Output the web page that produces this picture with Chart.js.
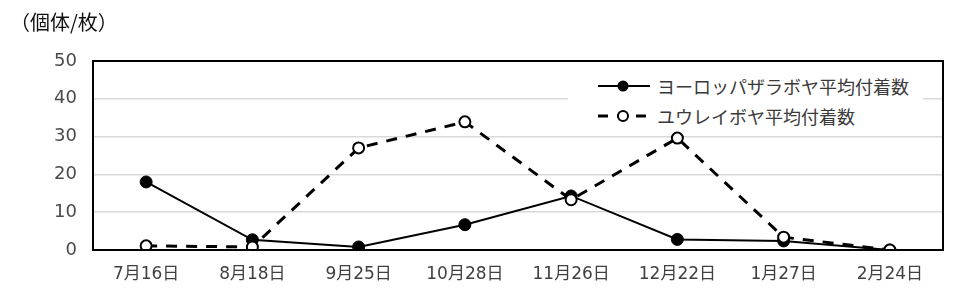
<!DOCTYPE html>
<html lang="ja">
<head>
    <meta charset="UTF-8">
    <title>平均付着数</title>
    <script src="https://cdn.jsdelivr.net/npm/chart.js"></script>
    <style>
        body { margin: 0; background: #fff; font-family: "Noto Sans CJK JP", sans-serif; }
        .wrap { position: relative; width: 960px; height: 305px; }
        #unit { position: absolute; left: 10px; top: 7px; font-size: 20px; color: #111; }
        .legend { position: absolute; left: 568px; top: 70px; width: 355px; height: 60px; background: #fff; }
        .legend .row { position: absolute; left: 28px; height: 28px; display: flex; align-items: center; font-size: 18px; color: #3a3a3a; }
        .legend svg { margin-right: 5px; }
    </style>
</head>
<body>
<div class="wrap">
    <canvas id="chart" width="960" height="305"></canvas>
    <div id="unit">（個体/枚）</div>
    <div class="legend">
        <div class="row" style="top:2px">
            <svg width="56" height="16"><line x1="2" y1="8" x2="54" y2="8" stroke="#000" stroke-width="2"/><circle cx="27" cy="8" r="5.5" fill="#000"/></svg>
            <span>ヨーロッパザラボヤ平均付着数</span>
        </div>
        <div class="row" style="top:32px">
            <svg width="56" height="16"><line x1="2" y1="8" x2="54" y2="8" stroke="#000" stroke-width="3" stroke-dasharray="10,9"/><circle cx="27" cy="8" r="5" fill="#fff" stroke="#000" stroke-width="2"/></svg>
            <span>ユウレイボヤ平均付着数</span>
        </div>
    </div>
</div>
<script>
    // Data
    const dates = ['7月16日', '8月18日', '9月25日', '10月28日', '11月26日', '12月22日', '1月27日', '2月24日'];
    const europeanAscidian = [18, 2.7, 0.8, 6.7, 14.3, 2.8, 2.4, 0];
    const cionaAscidian = [1.1, 0.8, 27, 33.9, 13.3, 29.6, 3.4, 0];
    const yTicks = [0, 10, 20, 30, 40, 50];

    const tickFont = '"DejaVu Sans", "Noto Sans CJK JP", sans-serif';

    // Black frame around the plot area
    const frame = {
        id: 'frame',
        afterDatasetsDraw(chart) {
            const a = chart.chartArea, ctx = chart.ctx;
            ctx.save();
            ctx.strokeStyle = '#000';
            ctx.lineWidth = 2;
            ctx.strokeRect(a.left, a.top, a.right - a.left, a.bottom - a.top);
            ctx.restore();
        }
    };

    new Chart(document.getElementById('chart'), {
        type: 'line',
        data: {
            labels: dates,
            datasets: [
                {
                    label: 'ヨーロッパザラボヤ平均付着数',
                    data: europeanAscidian,
                    borderColor: '#000', borderWidth: 2,
                    pointBackgroundColor: '#000', pointBorderColor: '#000',
                    pointRadius: 6, pointBorderWidth: 1,
                    tension: 0, order: 1
                },
                {
                    label: 'ユウレイボヤ平均付着数',
                    data: cionaAscidian,
                    borderColor: '#000', borderWidth: 3, borderDash: [11, 9],
                    pointBackgroundColor: '#fff', pointBorderColor: '#000',
                    pointRadius: 5.5, pointBorderWidth: 2,
                    tension: 0, order: 0
                }
            ]
        },
        options: {
            responsive: false,
            animation: false,
            layout: { padding: { top: 61, right: 17, left: 0, bottom: 0 } },
            plugins: { legend: { display: false }, tooltip: { enabled: false } },
            scales: {
                x: {
                    offset: true,
                    grid: { display: false },
                    border: { display: false },
                    ticks: { color: '#404040', font: { family: tickFont, size: 17 }, padding: 6, maxRotation: 0 },
                    afterFit(s) { s.height = 55; }
                },
                y: {
                    min: 0, max: 50,
                    afterBuildTicks(s) { s.ticks = yTicks.map(v => ({ value: v })); },
                    grid: { color: '#d9d9d9', lineWidth: 1.5, drawTicks: false },
                    border: { display: false },
                    ticks: { color: '#4a4a4a', font: { family: tickFont, size: 18 }, padding: 16 },
                    afterFit(s) { s.width = 93; }
                }
            }
        },
        plugins: [frame]
    });
</script>
</body>
</html>
